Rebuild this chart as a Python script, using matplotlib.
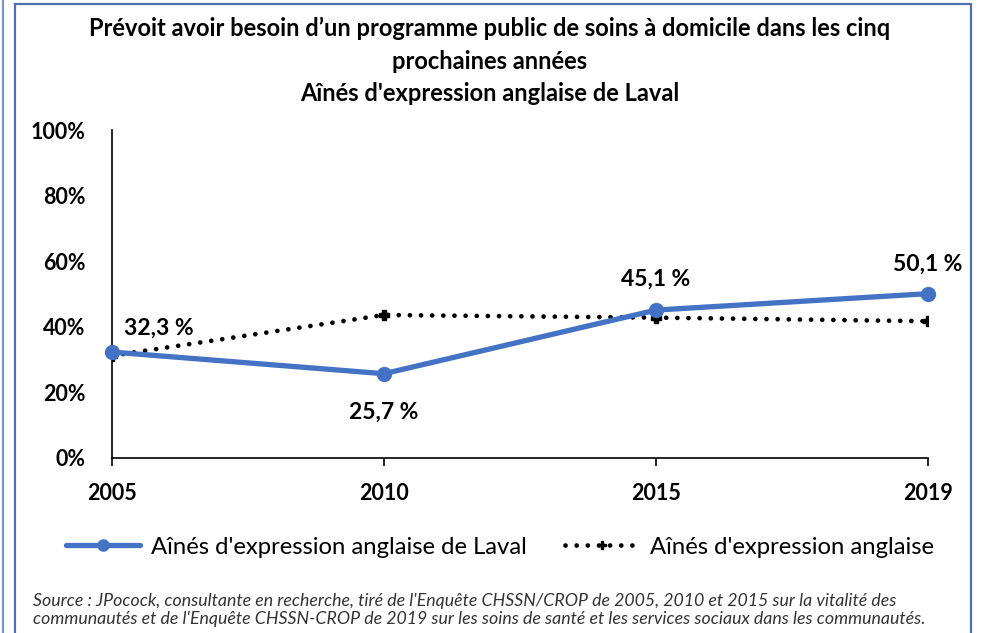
import matplotlib.pyplot as plt
from matplotlib.patches import Rectangle
from matplotlib.lines import Line2D
from matplotlib.ticker import FuncFormatter

# Données
annees = ["2005", "2010", "2015", "2019"]
laval = [32.3, 25.7, 45.1, 50.1]
anglais = [31.2, 43.6, 42.8, 41.7]

nom_laval = "Aînés d'expression anglaise de Laval"
nom_anglais = "Aînés d'expression anglaise"
titre = ("Prévoit avoir besoin d\u2019un programme public de soins à domicile dans les cinq\n"
         "prochaines années\n"
         "Aînés d'expression anglaise de Laval")
source = ("Source : JPocock, consultante en recherche, tiré de l'Enquête CHSSN/CROP de 2005, 2010 et 2015 sur la vitalité des\n"
          "communautés et de l'Enquête CHSSN-CROP de 2019 sur les soins de santé et les services sociaux dans les communautés.")

W, H = 981, 633
bleu = "#4472C4"
police = "Lato"

fig = plt.figure(figsize=(W / 100, H / 100), dpi=100)
fig.patch.set_facecolor("white")

def fx(px):
    return px / W

def fy(py):
    return 1 - py / H

# cadre
fig.add_artist(Rectangle((fx(15), fy(640)), fx(971) - fx(15), fy(4) - fy(640),
                         transform=fig.transFigure, fill=False, edgecolor="#4f6fb0", lw=1.6))
fig.add_artist(Line2D([fx(3), fx(3)], [0, 1], transform=fig.transFigure, color="#7f97c8", lw=1.6))

ax = fig.add_axes([fx(112), fy(458), fx(928) - fx(112), fy(130) - fy(458)])
x = list(range(len(annees)))

ax.plot(x, anglais, color="black", lw=3.4, linestyle=(0, (0.01, 2.35)), dash_capstyle="round",
        marker="P", markersize=7.5, label=nom_anglais, zorder=2)
ax.plot(x, laval, color=bleu, lw=3.8, marker="o", markersize=10, label=nom_laval,
        solid_capstyle="round", zorder=3, clip_on=False)

offsets = [(34, 17), (0, -28), (0, 22), (0, 21)]
for xi, v, off in zip(x, laval, offsets):
    ax.annotate(f"{v:.1f} %".replace(".", ","), (xi, v), xytext=off, textcoords="offset points",
                ha="center", va="center", fontsize=16.5, fontweight="bold", family=police)

ax.set_xlim(0, 3)
ax.set_ylim(0, 100)
ax.set_yticks([0, 20, 40, 60, 80, 100])
ax.yaxis.set_major_formatter(FuncFormatter(lambda v, p: f"{v:.0f}%"))
ax.set_xticks(x)
ax.set_xticklabels(annees)
for s in ["top", "right"]:
    ax.spines[s].set_visible(False)
for s in ["left", "bottom"]:
    ax.spines[s].set_linewidth(1.2)
ax.tick_params(axis="y", length=0, pad=19, labelsize=15.5)
ax.tick_params(axis="x", length=6, width=1.2, direction="out", pad=12, labelsize=15.5)
for lab in ax.get_xticklabels() + ax.get_yticklabels():
    lab.set_fontweight("bold")
    lab.set_family(police)

fig.text(fx(490), fy(61), titre, ha="center", va="center", fontsize=17, fontweight="bold",
         family=police, linespacing=1.5)

handles, labels = ax.get_legend_handles_labels()
fig.legend(handles[::-1], labels[::-1], loc="center", bbox_to_anchor=(fx(500), fy(547)), ncol=2,
           frameon=False, prop={"family": police, "size": 17.2}, handlelength=3.1,
           handletextpad=0.45, columnspacing=1.6, markerscale=0.8)

fig.text(fx(33), fy(610), source, ha="left", va="center", fontsize=12.8, style="italic",
         family=police, color="#333333", linespacing=1.2)

fig.savefig("out.png", dpi=100, facecolor="white")
